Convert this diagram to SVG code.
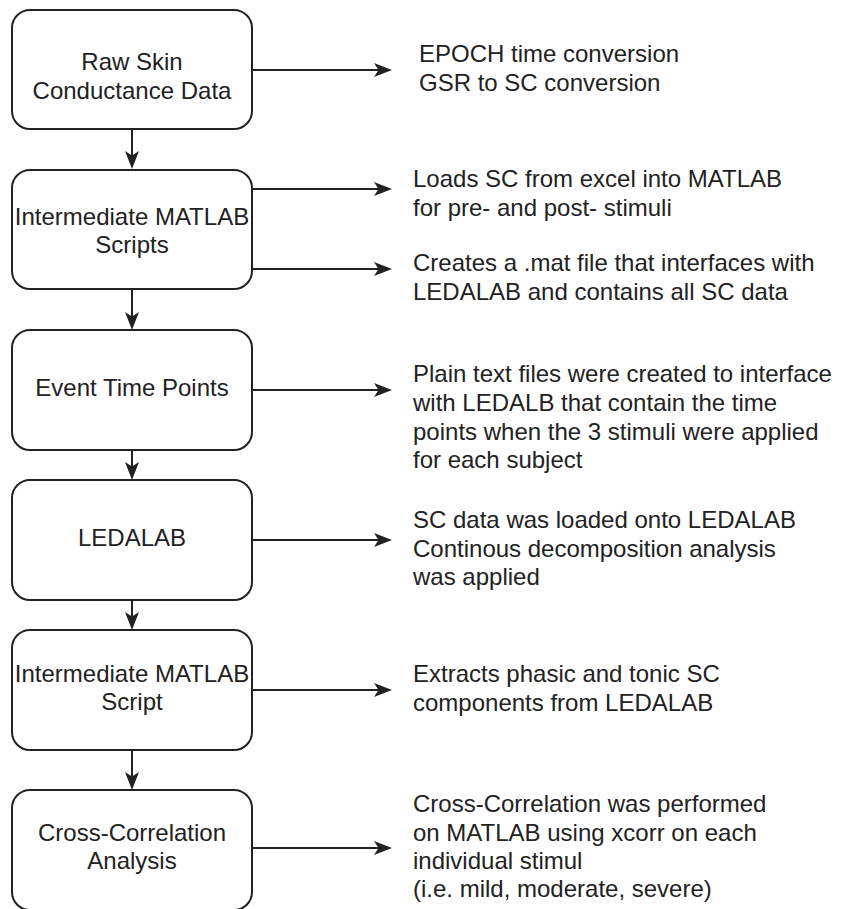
<svg xmlns="http://www.w3.org/2000/svg" width="841" height="909" viewBox="0 0 841 909">
<defs>
<style>
.box{fill:#fff;stroke:#222;stroke-width:2}
.t{font-family:"Liberation Sans",Arial,sans-serif;font-size:24px;fill:#222}
.c{text-anchor:middle}
.edge{stroke:#222;stroke-width:2;fill:none;marker-end:url(#arr)}
</style>
<marker id="arr" markerUnits="userSpaceOnUse" viewBox="0 0 18 14" refX="12" refY="7" markerWidth="18" markerHeight="14" orient="auto">
<path d="M0,0 L18,7 L0,14 L4.5,7 Z" fill="#222"/>
</marker>
</defs>
<rect width="841" height="909" fill="#fff"/>
<g id="connectors">
<path class="edge" d="M132,129 V163"/>
<path class="edge" d="M132,289 V324"/>
<path class="edge" d="M132,450 V474"/>
<path class="edge" d="M132,600 V624"/>
<path class="edge" d="M132,750 V784"/>
<path class="edge" d="M252,70 H386"/>
<path class="edge" d="M252,189 H386"/>
<path class="edge" d="M252,269 H386"/>
<path class="edge" d="M252,390 H386"/>
<path class="edge" d="M252,540 H386"/>
<path class="edge" d="M252,690 H386"/>
<path class="edge" d="M252,848 H386"/>
</g>
<g id="n1">
<rect class="box" x="12" y="10" width="240" height="119" rx="18"/>
<text class="t c" x="132" y="70">Raw Skin</text>
<text class="t c" x="132" y="99">Conductance Data</text>
</g>
<g id="n2">
<rect class="box" x="12" y="170" width="240" height="119" rx="18"/>
<text class="t c" x="132" y="225">Intermediate MATLAB</text>
<text class="t c" x="132" y="253">Scripts</text>
</g>
<g id="n3">
<rect class="box" x="12" y="330" width="240" height="120" rx="18"/>
<text class="t c" x="132" y="396">Event Time Points</text>
</g>
<g id="n4">
<rect class="box" x="12" y="480" width="240" height="120" rx="18"/>
<text class="t c" x="132" y="546">LEDALAB</text>
</g>
<g id="n5">
<rect class="box" x="12" y="630" width="240" height="120" rx="18"/>
<text class="t c" x="132" y="682">Intermediate MATLAB</text>
<text class="t c" x="132" y="710">Script</text>
</g>
<g id="n6">
<rect class="box" x="12" y="790" width="240" height="120" rx="18"/>
<text class="t c" x="132" y="841">Cross-Correlation</text>
<text class="t c" x="132" y="869">Analysis</text>
</g>
<g id="l1">
<text class="t" x="419" y="62">EPOCH time conversion</text>
<text class="t" x="419" y="91">GSR to SC conversion</text>
</g>
<g id="l2">
<text class="t" x="413" y="187">Loads SC from excel into MATLAB</text>
<text class="t" x="413" y="216">for pre- and post- stimuli</text>
</g>
<g id="l3">
<text class="t" x="413" y="271">Creates a .mat file that interfaces with</text>
<text class="t" x="413" y="300">LEDALAB and contains all SC data</text>
</g>
<g id="l4">
<text class="t" x="413" y="382">Plain text files were created to interface</text>
<text class="t" x="413" y="411">with LEDALB that contain the time</text>
<text class="t" x="413" y="440">points when the 3 stimuli were applied</text>
<text class="t" x="413" y="468">for each subject</text>
</g>
<g id="l5">
<text class="t" x="413" y="528">SC data was loaded onto LEDALAB</text>
<text class="t" x="413" y="557">Continous decomposition analysis</text>
<text class="t" x="413" y="585">was applied</text>
</g>
<g id="l6">
<text class="t" x="413" y="682">Extracts phasic and tonic SC</text>
<text class="t" x="413" y="711">components from LEDALAB</text>
</g>
<g id="l7">
<text class="t" x="413" y="812">Cross-Correlation was performed</text>
<text class="t" x="413" y="841">on MATLAB using xcorr on each</text>
<text class="t" x="413" y="869">individual stimul</text>
<text class="t" x="413" y="897">(i.e. mild, moderate, severe)</text>
</g>
</svg>
